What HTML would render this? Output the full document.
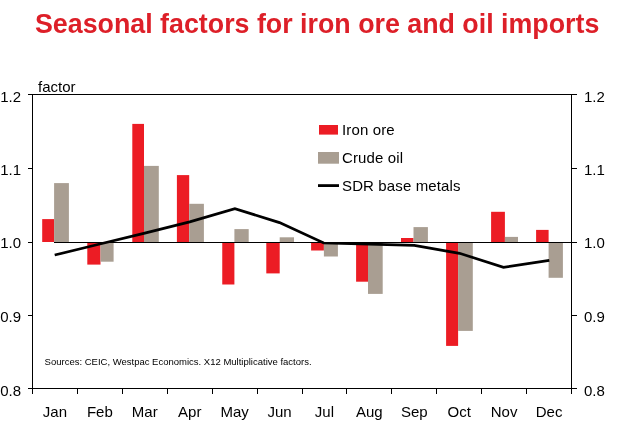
<!DOCTYPE html>
<html><head><meta charset="utf-8"><style>
html,body{margin:0;padding:0;background:#fff;}
svg{display:block;will-change:transform;}
text{font-family:"Liberation Sans",sans-serif;}
</style></head><body>
<svg width="619" height="439" viewBox="0 0 619 439">
<rect width="619" height="439" fill="#fff"/>
<text x="35" y="32.9" font-size="26.8" font-weight="bold" fill="#dd1f28">Seasonal factors for iron ore and oil imports</text>
<rect x="42.20" y="219.10" width="11.90" height="22.90" fill="#ec1c24"/>
<rect x="54.10" y="183.10" width="14.80" height="58.90" fill="#a99e92"/>
<rect x="87.30" y="242.00" width="13.20" height="22.60" fill="#ec1c24"/>
<rect x="100.50" y="242.00" width="13.10" height="19.70" fill="#a99e92"/>
<rect x="132.30" y="123.90" width="11.70" height="118.10" fill="#ec1c24"/>
<rect x="144.00" y="165.90" width="14.80" height="76.10" fill="#a99e92"/>
<rect x="176.90" y="175.10" width="12.30" height="66.90" fill="#ec1c24"/>
<rect x="189.20" y="203.80" width="14.70" height="38.20" fill="#a99e92"/>
<rect x="222.25" y="242.00" width="12.15" height="42.50" fill="#ec1c24"/>
<rect x="234.40" y="229.10" width="14.30" height="12.90" fill="#a99e92"/>
<rect x="266.30" y="242.00" width="13.40" height="31.40" fill="#ec1c24"/>
<rect x="279.70" y="237.30" width="14.30" height="4.70" fill="#a99e92"/>
<rect x="311.10" y="242.00" width="12.80" height="8.50" fill="#ec1c24"/>
<rect x="323.90" y="242.00" width="14.00" height="14.50" fill="#a99e92"/>
<rect x="356.10" y="242.00" width="11.90" height="39.70" fill="#ec1c24"/>
<rect x="368.00" y="242.00" width="14.70" height="51.90" fill="#a99e92"/>
<rect x="401.00" y="238.00" width="12.50" height="4.00" fill="#ec1c24"/>
<rect x="413.50" y="227.10" width="14.40" height="14.90" fill="#a99e92"/>
<rect x="446.10" y="242.00" width="12.00" height="103.90" fill="#ec1c24"/>
<rect x="458.10" y="242.00" width="14.70" height="88.90" fill="#a99e92"/>
<rect x="491.10" y="211.80" width="13.80" height="30.20" fill="#ec1c24"/>
<rect x="504.90" y="236.90" width="13.10" height="5.10" fill="#a99e92"/>
<rect x="536.10" y="229.90" width="12.50" height="12.10" fill="#ec1c24"/>
<rect x="548.60" y="242.00" width="14.30" height="35.80" fill="#a99e92"/>
<g stroke="#000" stroke-width="1" fill="none" shape-rendering="crispEdges">
<line x1="54" y1="242.5" x2="571.5" y2="242.5"/>
<line x1="28" y1="94.5" x2="577" y2="94.5"/>
<line x1="28" y1="388.5" x2="577" y2="388.5"/>
<line x1="32.5" y1="94.5" x2="32.5" y2="393.5"/>
<line x1="571.5" y1="94.5" x2="571.5" y2="393.5"/>
<line x1="28" y1="94.5" x2="32.5" y2="94.5"/>
<line x1="571.5" y1="94.5" x2="577" y2="94.5"/>
<line x1="28" y1="168.5" x2="32.5" y2="168.5"/>
<line x1="571.5" y1="168.5" x2="577" y2="168.5"/>
<line x1="28" y1="242.5" x2="32.5" y2="242.5"/>
<line x1="571.5" y1="242.5" x2="577" y2="242.5"/>
<line x1="28" y1="315.5" x2="32.5" y2="315.5"/>
<line x1="571.5" y1="315.5" x2="577" y2="315.5"/>
<line x1="28" y1="388.5" x2="32.5" y2="388.5"/>
<line x1="571.5" y1="388.5" x2="577" y2="388.5"/>
<line x1="32.50" y1="388.5" x2="32.50" y2="393.5"/>
<line x1="77.42" y1="388.5" x2="77.42" y2="393.5"/>
<line x1="122.33" y1="388.5" x2="122.33" y2="393.5"/>
<line x1="167.25" y1="388.5" x2="167.25" y2="393.5"/>
<line x1="212.17" y1="388.5" x2="212.17" y2="393.5"/>
<line x1="257.09" y1="388.5" x2="257.09" y2="393.5"/>
<line x1="302.00" y1="388.5" x2="302.00" y2="393.5"/>
<line x1="346.92" y1="388.5" x2="346.92" y2="393.5"/>
<line x1="391.84" y1="388.5" x2="391.84" y2="393.5"/>
<line x1="436.75" y1="388.5" x2="436.75" y2="393.5"/>
<line x1="481.67" y1="388.5" x2="481.67" y2="393.5"/>
<line x1="526.59" y1="388.5" x2="526.59" y2="393.5"/>
<line x1="571.50" y1="388.5" x2="571.50" y2="393.5"/>
</g>
<polyline points="54.7,255 99.9,244 144.8,233.2 189.7,221.8 234.9,208.6 279.5,222.6 323.7,243 369.4,244.2 414.3,245.4 459.5,253.3 503.5,267.4 549.3,260.3" fill="none" stroke="#000" stroke-width="2.75" stroke-linejoin="miter"/>
<g font-size="15" fill="#000">
<text x="21" y="102" text-anchor="end">1.2</text>
<text x="584" y="102">1.2</text>
<text x="21" y="175" text-anchor="end">1.1</text>
<text x="584" y="175">1.1</text>
<text x="21" y="248" text-anchor="end">1.0</text>
<text x="584" y="248">1.0</text>
<text x="21" y="322" text-anchor="end">0.9</text>
<text x="584" y="322">0.9</text>
<text x="21" y="395.5" text-anchor="end">0.8</text>
<text x="584" y="395.5">0.8</text>
<text x="54.96" y="417" text-anchor="middle">Jan</text>
<text x="99.88" y="417" text-anchor="middle">Feb</text>
<text x="144.79" y="417" text-anchor="middle">Mar</text>
<text x="189.71" y="417" text-anchor="middle">Apr</text>
<text x="234.63" y="417" text-anchor="middle">May</text>
<text x="279.55" y="417" text-anchor="middle">Jun</text>
<text x="324.46" y="417" text-anchor="middle">Jul</text>
<text x="369.38" y="417" text-anchor="middle">Aug</text>
<text x="414.30" y="417" text-anchor="middle">Sep</text>
<text x="459.21" y="417" text-anchor="middle">Oct</text>
<text x="504.13" y="417" text-anchor="middle">Nov</text>
<text x="549.05" y="417" text-anchor="middle">Dec</text>
<text x="38" y="92">factor</text>
<text x="342" y="134.8" letter-spacing="0.13">Iron ore</text>
<text x="342" y="162.8" letter-spacing="0.13">Crude oil</text>
<text x="342" y="190.5" letter-spacing="0.13">SDR base metals</text>
</g>
<rect x="319" y="125" width="19" height="9.6" fill="#ec1c24"/>
<rect x="318" y="152" width="21" height="11.7" fill="#a99e92"/>
<rect x="318" y="184.2" width="21" height="2.8" fill="#000"/>
<text x="44.6" y="364.7" font-size="9.5" fill="#000">Sources: CEIC, Westpac Economics. X12 Multiplicative factors.</text>
</svg>
</body></html>
